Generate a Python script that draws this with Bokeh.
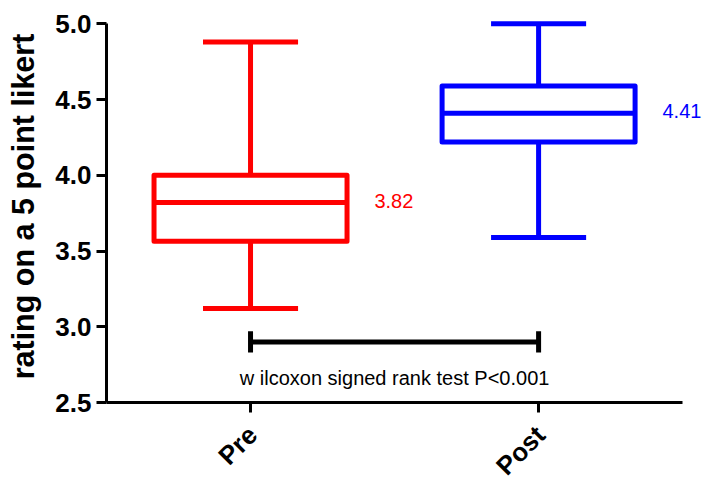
import math
from bokeh.plotting import figure
from bokeh.layouts import column
from bokeh.models import FixedTicker, Range1d
from bokeh.embed import file_html
from bokeh.resources import INLINE
from bokeh.core.properties import value

# ---- data ----
categories = ["Pre", "Post"]
colors = ["#ff0000", "#0000ff"]
whisker_low = [3.12, 3.59]
q1 = [3.565, 4.22]
median = [3.82, 4.41]
q3 = [4.00, 4.59]
whisker_high = [4.88, 5.00]
median_labels = ["3.82", "4.41"]
y_ticks = [2.5, 3.0, 3.5, 4.0, 4.5, 5.0]
y_label = "rating on a 5 point likert"
test_text = "w ilcoxon signed rank test P<0.001"
bracket_y = 2.90
test_text_y = 2.66

FONT = "Liberation Sans"
box_width = 0.67
cap_half = 0.165

xs = list(range(len(categories)))
x_range = Range1d(-0.5, 1.569)

p = figure(width=702, height=420, output_backend="svg", toolbar_location=None,
           x_range=x_range, y_range=Range1d(2.5, 5.088),
           min_border_left=106, min_border_right=0, min_border_top=10,
           min_border_bottom=18)
p.outline_line_color = None
p.xgrid.visible = False
p.ygrid.visible = False
p.background_fill_color = "white"
p.border_fill_color = "white"

# boxes
p.vbar(x=xs, width=box_width, bottom=q1, top=q3, fill_alpha=0,
       line_color=colors, line_width=5, line_join="round")
# medians
p.segment(x0=[x - box_width / 2 for x in xs], x1=[x + box_width / 2 for x in xs],
          y0=median, y1=median, line_color=colors, line_width=5)
# whiskers
p.segment(x0=xs, x1=xs, y0=q3, y1=whisker_high, line_color=colors, line_width=5)
p.segment(x0=xs, x1=xs, y0=q1, y1=whisker_low, line_color=colors, line_width=5)
# caps
p.segment(x0=[x - cap_half for x in xs], x1=[x + cap_half for x in xs],
          y0=whisker_high, y1=whisker_high, line_color=colors, line_width=5)
p.segment(x0=[x - cap_half for x in xs], x1=[x + cap_half for x in xs],
          y0=whisker_low, y1=whisker_low, line_color=colors, line_width=5)

# median labels
p.text(x=[x + 0.43 for x in xs], y=median, text=median_labels, text_color=colors,
       text_font=value(FONT), text_font_size="20px", text_align="left",
       text_baseline="middle", y_offset=-2)

# significance bracket
p.segment(x0=[xs[0]], x1=[xs[1]], y0=[bracket_y], y1=[bracket_y],
          line_color="black", line_width=5)
p.segment(x0=xs, x1=xs, y0=[bracket_y - 0.07] * 2, y1=[bracket_y + 0.07] * 2,
          line_color="black", line_width=5)
p.text(x=[(xs[0] + xs[1]) / 2], y=[test_text_y], text=[test_text],
       text_color="black", text_font=value(FONT), text_font_size="20px",
       text_align="center", text_baseline="middle")

# y axis
ya = p.yaxis[0]
ya.ticker = FixedTicker(ticks=y_ticks)
ya.bounds = (y_ticks[0], y_ticks[-1])
ya.major_label_overrides = {t: f"{t:.1f}" for t in y_ticks}
ya.axis_label = y_label
ya.axis_label_text_font = FONT
ya.axis_label_text_font_style = "bold"
ya.axis_label_text_font_size = "30.5px"
ya.axis_label_text_color = "black"
ya.axis_label_standoff = 12
ya.major_label_text_font = FONT
ya.major_label_text_font_style = "bold"
ya.major_label_text_font_size = "26px"
ya.major_label_text_color = "black"
ya.major_label_standoff = 5
ya.axis_line_width = 3
ya.axis_line_color = "black"
ya.major_tick_line_width = 3
ya.major_tick_line_color = "black"
ya.major_tick_out = 10
ya.major_tick_in = 0
ya.minor_tick_line_color = None

# x axis: line and ticks only (category names are drawn in the strip below)
xa = p.xaxis[0]
xa.ticker = FixedTicker(ticks=[], minor_ticks=xs)
xa.bounds = (-0.5, 1.5)
xa.axis_line_width = 3
xa.axis_line_color = "black"
xa.minor_tick_line_width = 3
xa.minor_tick_line_color = "black"
xa.minor_tick_out = 10
xa.minor_tick_in = 0
xa.major_tick_line_color = None

# strip holding the rotated category names
lab = figure(width=702, height=63, output_backend="svg", toolbar_location=None,
             x_range=x_range, y_range=Range1d(0, 63),
             x_axis_type=None, y_axis_type=None,
             min_border_left=106, min_border_right=0, min_border_top=0,
             min_border_bottom=0)
lab.outline_line_color = None
lab.xgrid.visible = False
lab.ygrid.visible = False
lab.background_fill_color = "white"
lab.border_fill_color = "white"
lab.text(x=xs, y=[53] * len(xs), text=categories, angle=math.pi / 4,
         x_offset=2, text_align="right", text_baseline="middle",
         text_font=value(FONT), text_font_style="bold", text_font_size="26px",
         text_color="black")

layout = column(p, lab, spacing=0)
open("out.html", "w").write(file_html(layout, INLINE))
